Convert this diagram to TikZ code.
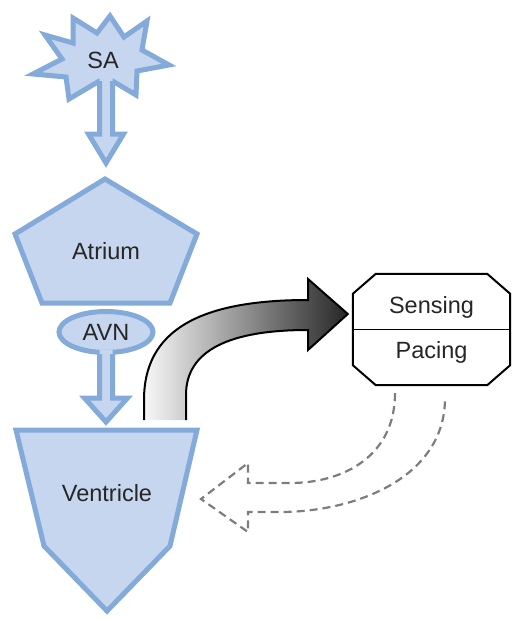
\documentclass[tikz,border=0pt]{standalone}
\usepackage{fontspec}
\setmainfont{Liberation Sans}
\usetikzlibrary{positioning,shapes.geometric,calc}
\definecolor{heartblue}{RGB}{131,170,216}
\definecolor{heartfill}{RGB}{197,214,238}
\definecolor{leadgray}{RGB}{125,125,125}

% fat downward arrow: start, tip, head half width, head length
\newcommand{\bigdown}[4]{%
  \fill[heartfill] let \p1=(#1), \p2=(#2) in
    (\x1-6.5pt,\y1+4pt) -- (\x1+6.5pt,\y1+4pt) -- (\x1+6.5pt,\y2+#4) -- (\x1+#3,\y2+#4)
    -- (\x1,\y2) -- (\x1-#3,\y2+#4) -- (\x1-6.5pt,\y2+#4) -- cycle;
  \draw[organline] let \p1=(#1), \p2=(#2) in
    (\x1-6.5pt,\y1) -- (\x1-6.5pt,\y2+#4) -- (\x1-#3,\y2+#4) -- (\x1,\y2)
    -- (\x1+#3,\y2+#4) -- (\x1+6.5pt,\y2+#4) -- (\x1+6.5pt,\y1);}

\begin{document}
\begin{tikzpicture}[x=1pt,y=-1pt,
  organline/.style={draw=heartblue,line width=5pt,line join=miter},
  organ/.style={organline,fill=heartfill},
  lbl/.style={font=\fontsize{23.5}{28}\selectfont,text=black!85,inner sep=0pt},
  lead/.style={draw=leadgray,line width=2.2pt,dash pattern=on 8pt off 5pt}]
  \useasboundingbox (0,0) rectangle (512,618);

  % ── SA node (star) ──
  \draw[organ] (110,16) -- (124,37) -- (147,21) -- (142,50) -- (169,65) -- (137,71)
    -- (136,95) -- (112.5,81) -- (99.5,81) -- (69,99) -- (66,77) -- (33,74) -- (62,59)
    -- (45,35) -- (73,43) -- (73,18) -- (97,33) -- cycle;
  \node[lbl] (sa) at (103,60) {SA};

  % ── Atrium ──
  \draw[organ] (105,179) -- (197,234) -- (170,303) -- (42,303) -- (15,234) -- cycle;
  \node[lbl] (atrium) at (106,251) {Atrium};

  % ── AVN ──
  \node[organ,ellipse,minimum width=94pt,minimum height=41pt,lbl,inner sep=0pt]
    (avn) at (106,332) {AVN};

  % ── Ventricle ──
  \draw[organ] (16,430) -- (197,430) -- (170,546) -- (107,611) -- (44,546) -- cycle;
  \node[lbl] (ventricle) at (107,493) {Ventricle};

  % ── conduction arrows ──
  \coordinate (saout) at (106,81);
  \coordinate (atin) at (106,163);
  \bigdown{saout}{atin}{17.5pt}{29pt}
  \coordinate (avnout) at ($(avn.south)+(0,-1)$);
  \coordinate (vin) at (106,422);
  \bigdown{avnout}{vin}{21.5pt}{24pt}

  % ── Pacemaker box ──
  \node[minimum width=157pt,minimum height=111pt,inner sep=0pt] (pm) at (431.5,329.5) {};
  \draw[black,line width=2pt]
    ($(pm.north west)+(23,0)$) -- ($(pm.north east)+(-23,0)$) -- ($(pm.north east)+(0,20)$)
    -- ($(pm.south east)+(0,-20)$) -- ($(pm.south east)+(-23,0)$) -- ($(pm.south west)+(23,0)$)
    -- ($(pm.south west)+(0,-20)$) -- ($(pm.north west)+(0,20)$) -- cycle;
  \draw[black,line width=1.1pt] (pm.west) -- (pm.east);
  \node[lbl,anchor=base] (sensing) at ($(pm.center)+(0,-16.5)$) {Sensing};
  \node[lbl,anchor=base] (pacing) at ($(pm.center)+(0,28.5)$) {Pacing};

  % ── sensed signal (shaded arrow) ──
  \coordinate (vtop) at (165,420);
  \shade[left color=gray!6,right color=black!85]
    (144,420) -- (144,400) .. controls (144,330) and (200,300) .. (308,300) -- (308,279)
    -- ($(pm.west)+(-5,-15.5)$) -- (308,350) -- (308,330)
    .. controls (230,330) and (186,350) .. (186,395) -- (186,420) -- cycle;
  \draw[black,line width=2pt,line join=miter]
    (144,420) -- (144,400) .. controls (144,330) and (200,300) .. (308,300) -- (308,279)
    -- ($(pm.west)+(-5,-15.5)$) -- (308,350) -- (308,330)
    .. controls (230,330) and (186,350) .. (186,395) -- (186,420);

  % ── pacing output (hollow dashed arrow) ──
  \coordinate (pl) at ($(pm.south)+(-36.5,8)$);
  \coordinate (pr) at ($(pm.south)+(13.5,13)$);
  \coordinate (vpace) at (201,499);
  \draw[lead] (pl) .. controls (395,455) and (345,483) .. (290,483) -- (248,483) -- (248,463)
    -- (vpace) -- (248,532) -- (248,512) -- (280,512)
    .. controls (355,512) and (445,478) .. (pr);
\end{tikzpicture}
\end{document}
